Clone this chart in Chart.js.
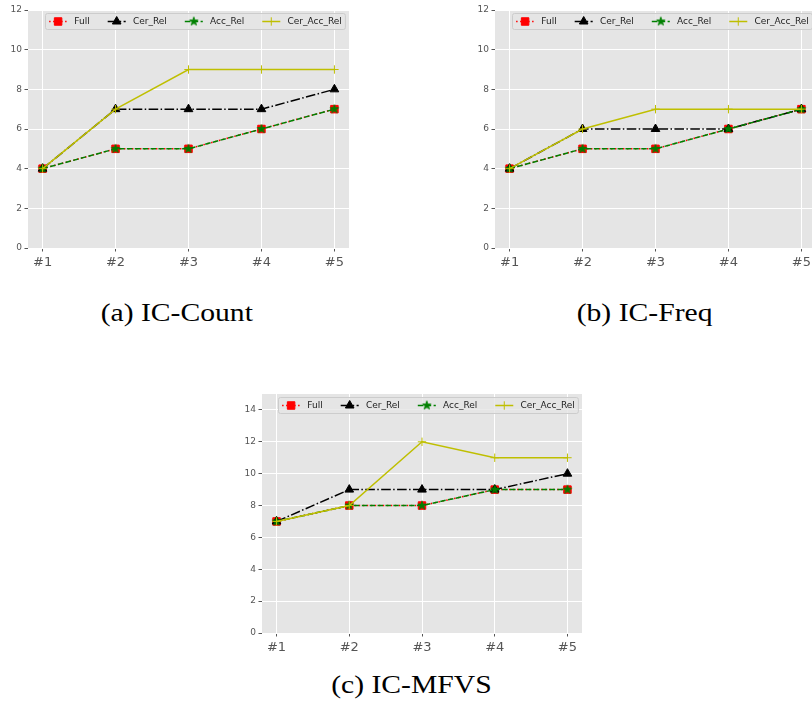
<!DOCTYPE html>
<html>
<head>
<meta charset="utf-8">
<script src="https://cdn.jsdelivr.net/npm/chart.js@4.4.0/dist/chart.umd.min.js"></script>
<style>
  html, body { margin: 0; padding: 0; background: #fff; width: 812px; height: 716px; overflow: hidden; }
  .panel { position: absolute; }
  .cap {
    position: absolute; width: 320px; text-align: center; white-space: nowrap;
    font-family: "Liberation Serif", "DejaVu Serif", serif; font-size: 26px; line-height: 30px; color: #000;
  }
  .cap span { display: inline-block; transform: scaleX(1.14); transform-origin: center; }
</style>
</head>
<body>
<canvas id="chartCount" class="panel" width="349" height="278" style="left:0px;top:0px"></canvas>
<canvas id="chartFreq" class="panel" width="349" height="278" style="left:467px;top:0px"></canvas>
<canvas id="chartMfvs" class="panel" width="348" height="279" style="left:234px;top:384px"></canvas>
<div class="cap" style="left:17px;top:298px"><span>(a) IC-Count</span></div>
<div class="cap" style="left:485px;top:298px"><span>(b) IC-Freq</span></div>
<div class="cap" style="left:251px;top:670px"><span>(c) IC-MFVS</span></div>

<script>
// Categories and series names
const categories = ['#1', '#2', '#3', '#4', '#5'];
const seriesNames = ['Full', 'Cer_Rel', 'Acc_Rel', 'Cer_Acc_Rel'];

// IC-Count
const countFull      = [4, 5, 5, 6, 7];
const countCerRel    = [4, 7, 7, 7, 8];
const countAccRel    = [4, 5, 5, 6, 7];
const countCerAccRel = [4, 7, 9, 9, 9];

// IC-Freq
const freqFull       = [4, 5, 5, 6, 7];
const freqCerRel     = [4, 6, 6, 6, 7];
const freqAccRel     = [4, 5, 5, 6, 7];
const freqCerAccRel  = [4, 6, 7, 7, 7];

// IC-MFVS
const mfvsFull       = [7, 8, 8, 9, 9];
const mfvsCerRel     = [7, 9, 9, 9, 10];
const mfvsAccRel     = [7, 8, 8, 9, 9];
const mfvsCerAccRel  = [7, 8, 12, 11, 11];

// Y tick values
const yTicksCount = [0, 2, 4, 6, 8, 10, 12];
const yTicksMfvs  = [0, 2, 4, 6, 8, 10, 12, 14];

// Filled five-point star marker
function makeStar(color, outer) {
  const size = Math.ceil(outer * 2 + 3);
  const c = document.createElement('canvas');
  c.width = size; c.height = size;
  const g = c.getContext('2d');
  const cx = size / 2, cy = size / 2, inner = outer * 0.382;
  g.beginPath();
  for (let i = 0; i < 10; i++) {
    const r = i % 2 === 0 ? outer : inner;
    const a = -Math.PI / 2 + i * Math.PI / 5;
    const px = cx + r * Math.cos(a), py = cy + r * Math.sin(a);
    if (i === 0) g.moveTo(px, py); else g.lineTo(px, py);
  }
  g.closePath();
  g.fillStyle = color; g.strokeStyle = color; g.lineWidth = 1; g.lineJoin = 'miter';
  g.fill(); g.stroke();
  return c;
}
const starMarker = makeStar('#008000', 4.4);

// Line/marker styles for the four series
const seriesStyles = [
  { color: '#FF0000', dash: [1.5, 2.5],           point: 'rect',     radius: 5.3, order: 3 },
  { color: '#000000', dash: [9.6, 2.4, 1.5, 2.4], point: 'triangle', radius: 5.0, order: 2 },
  { color: '#008000', dash: [5.5, 2.4],           point: starMarker, radius: 5.0, order: 1 },
  { color: '#BFBF00', dash: [],                   point: 'cross',    radius: 4.2, order: 0 }
];

function buildDatasets(seriesList) {
  return seriesList.map((values, i) => {
    const s = seriesStyles[i];
    return {
      label: seriesNames[i],
      data: values.map((v, k) => ({ x: k, y: v })),
      borderColor: s.color,
      backgroundColor: s.color,
      borderWidth: 1.5,
      borderDash: s.dash,
      tension: 0,
      fill: false,
      pointStyle: s.point,
      pointRadius: s.radius,
      pointBorderWidth: 1,
      pointBackgroundColor: s.color,
      pointBorderColor: s.color,
      order: s.order
    };
  });
}

// Grey panel behind the plot
const panelBackground = {
  id: 'panelBackground',
  beforeDraw(chart) {
    const a = chart.chartArea, ctx = chart.ctx;
    ctx.save();
    ctx.fillStyle = '#E5E5E5';
    ctx.fillRect(a.left, a.top, a.right - a.left, a.bottom - a.top);
    ctx.restore();
  }
};

function drawMarker(ctx, style, radius, x, y, color) {
  ctx.save();
  ctx.fillStyle = color; ctx.strokeStyle = color; ctx.lineWidth = 1; ctx.setLineDash([]);
  if (typeof style !== 'string') {
    ctx.drawImage(style, x - style.width / 2, y - style.height / 2);
  } else if (style === 'rect') {
    const h = radius * Math.SQRT1_2;
    ctx.beginPath(); ctx.rect(x - h, y - h, 2 * h, 2 * h); ctx.fill(); ctx.stroke();
  } else if (style === 'triangle') {
    ctx.beginPath();
    let rad = 0;
    ctx.moveTo(x + Math.sin(rad) * radius, y - Math.cos(rad) * radius);
    rad += 2 * Math.PI / 3;
    ctx.lineTo(x + Math.sin(rad) * radius, y - Math.cos(rad) * radius);
    rad += 2 * Math.PI / 3;
    ctx.lineTo(x + Math.sin(rad) * radius, y - Math.cos(rad) * radius);
    ctx.closePath(); ctx.fill(); ctx.stroke();
  } else if (style === 'cross') {
    ctx.beginPath();
    ctx.moveTo(x - radius, y); ctx.lineTo(x + radius, y);
    ctx.moveTo(x, y - radius); ctx.lineTo(x, y + radius);
    ctx.stroke();
  }
  ctx.restore();
}

// Single-row legend box in the upper right of the plot
const boxLegend = {
  id: 'boxLegend',
  afterDraw(chart) {
    const ctx = chart.ctx, a = chart.chartArea;
    const fs = 9, handle = 2 * fs, textPad = 0.8 * fs, colSpace = 2 * fs, borderPad = 0.4 * fs;
    ctx.save();
    ctx.font = fs + 'px "DejaVu Sans"';
    const sets = chart.data.datasets;
    const widths = sets.map(ds => ctx.measureText(ds.label).width);
    const total = widths.reduce((s, w) => s + handle + textPad + w, 0) + colSpace * (sets.length - 1) + 2 * borderPad;
    const h = 16;
    const x0 = Math.round(a.right - 4.5 - total) + 0.5;
    const y0 = Math.round(a.top + 3) + 0.5;
    ctx.beginPath();
    if (ctx.roundRect) ctx.roundRect(x0, y0, total, h, 2); else ctx.rect(x0, y0, total, h);
    ctx.fillStyle = 'rgba(229,229,229,0.8)';
    ctx.fill();
    ctx.strokeStyle = '#CCCCCC'; ctx.lineWidth = 1;
    ctx.stroke();
    const cy = y0 + h / 2;
    let x = x0 + borderPad;
    sets.forEach((ds, i) => {
      ctx.save();
      ctx.strokeStyle = ds.borderColor; ctx.lineWidth = ds.borderWidth;
      ctx.setLineDash(ds.borderDash || []);
      ctx.beginPath(); ctx.moveTo(x, cy); ctx.lineTo(x + handle, cy); ctx.stroke();
      ctx.restore();
      drawMarker(ctx, ds.pointStyle, ds.pointRadius, x + handle / 2, cy, ds.borderColor);
      ctx.fillStyle = '#222';
      ctx.textBaseline = 'middle'; ctx.textAlign = 'left';
      ctx.fillText(ds.label, x + handle + textPad, cy);
      x += handle + textPad + widths[i] + colSpace;
    });
    ctx.restore();
  }
};

function makeChart(id, seriesList, yMax, yTicks) {
  const gridOpts = { color: '#FFFFFF', lineWidth: 1, tickLength: 3.5, tickColor: '#555555', tickWidth: 1 };
  return new Chart(document.getElementById(id), {
    type: 'line',
    data: { datasets: buildDatasets(seriesList) },
    plugins: [panelBackground, boxLegend],
    options: {
      responsive: false,
      animation: false,
      events: [],
      layout: { autoPadding: false, padding: { top: 10, left: 0, right: 0, bottom: 0 } },
      plugins: { legend: { display: false }, tooltip: { enabled: false } },
      scales: {
        x: {
          type: 'linear',
          min: -0.2,
          max: categories.length - 1 + 0.2,
          afterBuildTicks: s => { s.ticks = categories.map((_, i) => ({ value: i })); },
          afterFit: s => { s.height = 30; s.paddingLeft = 0; s.paddingRight = 0; s.paddingTop = 0; s.paddingBottom = 0; },
          ticks: {
            callback: v => categories[v],
            font: { family: 'DejaVu Sans', size: 13 },
            color: '#555555', padding: 3, maxRotation: 0, autoSkip: false
          },
          grid: gridOpts,
          border: { display: false }
        },
        y: {
          min: 0,
          max: yMax,
          afterBuildTicks: s => { s.ticks = yTicks.map(v => ({ value: v })); },
          afterFit: s => { s.width = 28; s.paddingLeft = 0; s.paddingRight = 0; s.paddingTop = 0; s.paddingBottom = 0; },
          ticks: {
            font: { family: 'DejaVu Sans', size: 9 },
            color: '#555555', padding: 2.5
          },
          grid: gridOpts,
          border: { display: false }
        }
      }
    }
  });
}

makeChart('chartCount', [countFull, countCerRel, countAccRel, countCerAccRel], 12, yTicksCount);
makeChart('chartFreq',  [freqFull, freqCerRel, freqAccRel, freqCerAccRel], 12, yTicksCount);
makeChart('chartMfvs',  [mfvsFull, mfvsCerRel, mfvsAccRel, mfvsCerAccRel], 15, yTicksMfvs);
</script>
</body>
</html>
